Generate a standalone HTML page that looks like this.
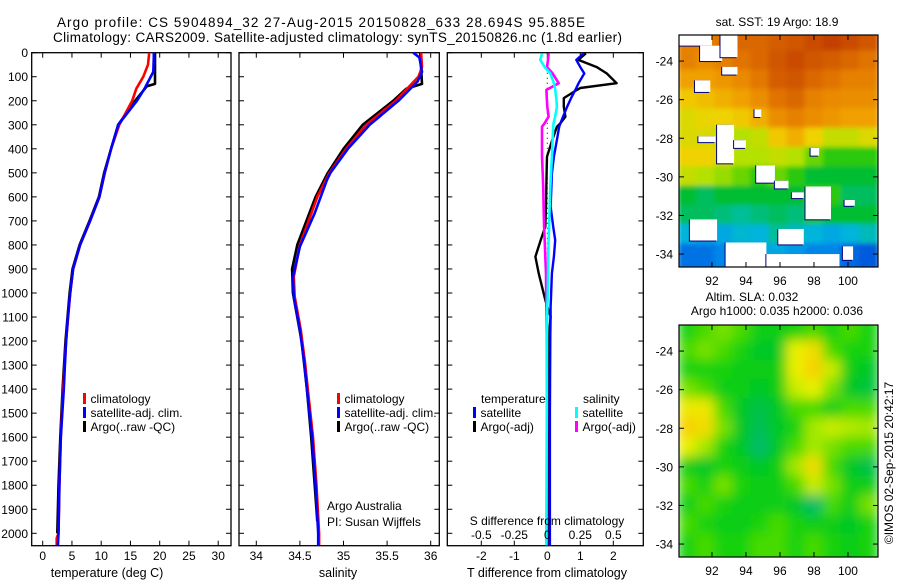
<!DOCTYPE html>
<html><head><meta charset="utf-8"><style>
html,body{margin:0;padding:0;background:#fff;}
svg{display:block;font-family:"Liberation Sans",Arial,sans-serif;}
</style></head><body>
<svg id="fig" width="900" height="580" viewBox="0 0 900 580" xmlns="http://www.w3.org/2000/svg">
<text x="57" y="27" font-size="13.5" textLength="528">Argo profile: CS 5904894_32 27-Aug-2015 20150828_633 28.694S 95.885E</text>
<text x="53" y="42" font-size="13.5" textLength="569">Climatology: CARS2009. Satellite-adjusted climatology: synTS_20150826.nc (1.8d earlier)</text>
<g id="plots"></g>
</svg>
<script>
// ---- data ----
const tempDepthBlue=[0,20,80,150,200,300,400,500,600,700,800,900,1000,1100,1200,1300,1400,1600,1800,2000,2050];
const tempBlue=[19.0,19.0,18.9,17.4,16.1,12.9,11.7,10.6,9.7,8.1,6.4,5.2,4.7,4.3,4.0,3.8,3.6,3.1,2.85,2.7,2.6];
const tempDepthRed=[0,50,100,150,200,300,400,500,600,700,800,900,1000,1200,1400,1600,1800,2000,2020,2050];
const tempRed=[18.2,18.0,17.2,16.0,15.3,13.1,11.7,10.6,9.7,8.1,6.4,5.2,4.7,4.0,3.5,3.1,2.85,2.7,2.4,2.4];
const tempDepthArgo=[0,130,140,200,300,400,500,600,700,800,900,1000,1200,1400,1600,1800,2000];
const tempArgo=[19.2,19.2,17.8,15.8,12.9,11.7,10.5,9.6,8.0,6.3,5.1,4.6,3.9,3.4,3.0,2.7,2.5];

const salDepthBlue=[0,20,80,120,200,300,400,500,530,668,807,932,1015,1154,1292,1431,1600,1800,2000,2050];
const salBlue=[35.80,35.87,35.90,35.85,35.63,35.30,35.05,34.85,34.81,34.67,34.50,34.42,34.43,34.50,34.55,34.59,34.64,34.68,34.71,34.71];
const salDepthRed=[0,60,100,200,300,400,500,600,800,932,1015,1154,1292,1431,1600,1800,2000,2050];
const salRed=[35.89,35.90,35.86,35.60,35.26,35.03,34.84,34.70,34.50,34.43,34.44,34.51,34.56,34.60,34.65,34.69,34.72,34.72];
const salDepthArgo=[0,130,150,200,300,400,500,600,800,900,1000,1200,1400,1600,1800,1950];
const salArgo=[35.88,35.90,35.72,35.57,35.22,35.00,34.82,34.68,34.47,34.41,34.42,34.52,34.58,34.63,34.67,34.70];

const dDepth=[3,30,60,86,127,147,155,189,225,266,293,308,363,433,502,571,640,724,780,849,918,1029,1057,1098,1180,1500,1800,2050];
const tDiffSat=[1.10,0.88,1.0,1.12,0.95,0.88,0.85,0.72,0.6,0.48,0.4,0.36,0.29,0.2,0.14,0.12,0.1,0.18,0.24,0.2,0.14,0.11,0.1,0.1,0.09,0.08,0.08,0.08];
const tDiffArgo=[1.17,0.94,1.5,1.8,2.1,1.0,0.9,0.5,0.5,0.55,0.4,0.29,0.15,-0.01,-0.02,-0.03,-0.04,-0.06,-0.2,-0.36,-0.26,-0.06,0.0,0.1,0.05,0.03,0.02,0.02];
const sDiffSat=[-0.04,-0.053,-0.02,0.023,0.05,0.058,0.06,0.068,0.073,0.06,0.048,0.045,0.04,0.035,0.028,0.022,0.018,0.014,0.01,0.007,0.005,0.002,0.0,-0.001,-0.002,-0.004,-0.006,-0.008];
const sDiffArgo=[0.01,0.005,-0.002,0.04,0.086,0.02,-0.007,-0.004,0.0,0.01,-0.02,-0.04,-0.04,-0.04,-0.035,-0.03,-0.028,-0.024,-0.02,-0.015,-0.01,-0.008,-0.007,-0.005,-0.004,-0.003,-0.003,-0.003];

const depthTicks=[0,100,200,300,400,500,600,700,800,900,1000,1100,1200,1300,1400,1500,1600,1700,1800,1900,2000];
const tempTicks=[0,5,10,15,20,25,30];
const salTicks=[34,34.5,35,35.5,36];
const tDiffTicks=[-2,-1,0,1,2];
const sDiffTicks=[-0.5,-0.25,0,0.25,0.5];
const sDiffTickLabels=["-0.5","-0.25","0","0.25","0.5"];
const latTicks=[-24,-26,-28,-30,-32,-34];
const lonTicks=[92,94,96,98,100];

// SST grid (colour index 0..1), rows lat -23..-34, cols across lon
const sstGrid=[
[.85,.85,.88,.9,.9,.92,.93,.95,.97,.95,.93],
[.85,.82,.85,.88,.9,.93,.95,.93,.92,.9,.88],
[.78,.78,.8,.83,.87,.92,.93,.9,.88,.85,.85],
[.7,.72,.75,.78,.82,.88,.9,.85,.83,.82,.82],
[.65,.67,.68,.7,.75,.82,.85,.82,.8,.78,.78],
[.65,.65,.62,.6,.62,.7,.75,.68,.62,.62,.65],
[.68,.68,.65,.6,.6,.62,.6,.55,.5,.5,.5],
[.62,.6,.58,.55,.5,.55,.5,.45,.45,.45,.45],
[.45,.42,.45,.45,.45,.45,.45,.5,.5,.42,.42],
[.42,.42,.4,.38,.4,.42,.4,.48,.45,.45,.45],
[.32,.3,.3,.33,.32,.38,.35,.32,.3,.32,.35],
[.22,.22,.25,.28,.3,.3,.28,.25,.25,.2,.18]];
const sstMask=[[90.06,-22.65,92.0,-23.2],[91.3,-23.2,92.6,-24.0],[92.5,-22.65,93.5,-23.8],[92.6,-24.3,93.5,-24.7],[91.0,-25.0,91.9,-25.6],
[91.2,-27.9,92.2,-28.2],[92.3,-27.3,93.3,-29.3],[93.3,-28.1,94.0,-28.5],[94.6,-29.4,95.7,-30.3],[95.7,-30.2,96.5,-30.6],
[96.7,-30.8,97.4,-31.1],[97.5,-30.5,99.0,-32.2],[90.7,-32.2,92.3,-33.3],[92.8,-33.4,95.2,-34.67],[95.2,-34.0,99.5,-34.67],
[95.9,-32.7,97.4,-33.5],[99.7,-33.6,100.3,-34.3],[99.8,-31.2,100.4,-31.5],[94.5,-26.5,94.9,-26.9],[97.8,-28.5,98.3,-28.9]];
const slaGrid=[
[.55,.6,.65,.6,.5,.5,.55,.6,.55,.6,.55],
[.6,.65,.6,.55,.45,.45,.8,.85,.6,.55,.55],
[.55,.55,.55,.5,.5,.5,.8,.88,.75,.5,.45],
[.65,.6,.5,.5,.45,.5,.75,.8,.65,.45,.42],
[.82,.82,.6,.45,.4,.45,.6,.6,.5,.6,.6],
[.88,.85,.65,.45,.38,.45,.55,.7,.75,.72,.7],
[.8,.7,.55,.45,.35,.45,.6,.7,.65,.6,.6],
[.5,.45,.55,.5,.45,.5,.7,.85,.6,.45,.4],
[.6,.55,.65,.55,.5,.5,.6,.75,.65,.5,.5],
[.5,.6,.55,.5,.5,.5,.45,.35,.6,.5,.65],
[.6,.55,.5,.5,.55,.6,.55,.5,.5,.45,.55],
[.55,.6,.55,.55,.6,.6,.55,.6,.55,.5,.55]];

// ---- helpers ----
const NS="http://www.w3.org/2000/svg";
const root=document.getElementById('plots');
function mk(tag,attrs,parent){const e=document.createElementNS(NS,tag);for(const k in attrs)e.setAttribute(k,attrs[k]);(parent||root).appendChild(e);return e;}
function txt(x,y,s,size,anchor,parent){const t=mk('text',{x:x,y:y,'font-size':size,'text-anchor':anchor||'start'},parent);t.textContent=s;return t;}
const yD=d=>52.7+d*0.2403;
const Y0=52.7, Y1=545.7;

function panel(name,x0,x1,xs,ticks,labels){
  const g=mk('g',{});
  
  
  mk('rect',{x:x0,y:Y0,width:x1-x0,height:Y1-Y0,fill:'none',stroke:'#000','stroke-width':1.3},g);
  ticks.forEach((v,i)=>{const x=xs(v);
    mk('line',{x1:x,x2:x,y1:Y1,y2:Y1-5,stroke:'#000'},g);
    mk('line',{x1:x,x2:x,y1:Y0,y2:Y0+5,stroke:'#000'},g);
    const t=txt(x,560,labels[i],12,'middle',g);
    
    
  });
  depthTicks.forEach(d=>{
    mk('line',{x1:x0,x2:x0+5,y1:yD(d),y2:yD(d),stroke:'#000'},g);
    mk('line',{x1:x1,x2:x1-5,y1:yD(d),y2:yD(d),stroke:'#000'},g);
  });
  return g;
}
function line(g,xs,depths,vals,color,name,w){
  const pts=depths.map((d,i)=>xs(vals[i]).toFixed(1)+','+yD(d).toFixed(1)).join(' ');
  const p=mk('polyline',{points:pts,fill:'none',stroke:color,'stroke-width':w||2.6,'stroke-linejoin':'round'},g);
  
  
}
function legend(g,x,y,items){
  items.forEach((it,i)=>{
    mk('rect',{x:x,y:y+i*14-10,width:3,height:11,fill:it[0]},g);
    const t=txt(x+7.5,y+i*14,it[1],12,'start',g);
    
    
  });
}

depthTicks.forEach(d=>{const t=txt(28,yD(d)+4.5,String(d),12,'end');
  
  });

// Panel 1 temperature
const xT=v=>42.7+v*5.85;
const g1=panel('temperature-panel',31.7,231,xT,tempTicks,tempTicks.map(String));
line(g1,xT,tempDepthArgo,tempArgo,'#000','argo-temperature-line');
line(g1,xT,tempDepthRed,tempRed,'#f00','climatology-temperature-line');
line(g1,xT,tempDepthBlue,tempBlue,'#00f','satellite-temperature-line');
legend(g1,83,403,[['#f00','climatology'],['#00f','satellite-adj. clim.'],['#000','Argo(..raw -QC)']]);
let t=txt(107,577,'temperature (deg C)',12.5,'middle',g1);


// Panel 2 salinity
const xS=v=>256.3+(v-34)*87.2;
const g2=panel('salinity-panel',239,439.3,xS,salTicks,salTicks.map(String));
line(g2,xS,salDepthArgo,salArgo,'#000','argo-salinity-line');
line(g2,xS,salDepthRed,salRed,'#f00','climatology-salinity-line');
line(g2,xS,salDepthBlue,salBlue,'#00f','satellite-salinity-line');
legend(g2,337,403,[['#f00','climatology'],['#00f','satellite-adj. clim.'],['#000','Argo(..raw -QC)']]);
txt(327,510,'Argo Australia',12,'start',g2);
txt(327,526,'PI: Susan Wijffels',12,'start',g2);
t=txt(338,577,'salinity',12.5,'middle',g2);


// Panel 3 differences
const xDT=v=>547.3+v*33;
const xDS=v=>547.3+v*132;
const g3=panel('difference-panel',447.3,643.3,xDT,tDiffTicks,tDiffTicks.map(String));
mk('line',{x1:547.3,x2:547.3,y1:Y0,y2:Y1,stroke:'#000','stroke-dasharray':'1,4'},g3);
line(g3,xDT,dDepth,tDiffArgo,'#000','argo-temperature-diff-line',2.4);
line(g3,xDT,dDepth,tDiffSat,'#00f','satellite-temperature-diff-line',2.4);
line(g3,xDS,dDepth,sDiffArgo,'#f0f','argo-salinity-diff-line',2.6);
line(g3,xDS,dDepth,sDiffSat,'#0ff','satellite-salinity-diff-line',2.6);
sDiffTicks.forEach((v,i)=>{const s=txt(xDS(v),539,sDiffTickLabels[i],12,'middle',g3);
  });
txt(547,525,'S difference from climatology',12,'middle',g3);
txt(481,403,'temperature',12,'start',g3);
txt(583,403,'salinity',12,'start',g3);
legend(g3,473,417,[['#00f','satellite'],['#000','Argo(-adj)']]);
legend(g3,575,417,[['#0ff','satellite'],['#f0f','Argo(-adj)']]);
t=txt(547,577,'T difference from climatology',12.5,'middle',g3);


// ---- maps ----
function ramp(stops,v){
  if(v<=stops[0][0])return 'rgb('+stops[0][1].join(',')+')';
  for(let i=1;i<stops.length;i++){if(v<=stops[i][0]){const a=stops[i-1],b=stops[i],f=(v-a[0])/(b[0]-a[0]);
    return 'rgb('+a[1].map((c,k)=>Math.round(c+(b[1][k]-c)*f)).join(',')+')';}}
  return 'rgb('+stops[stops.length-1][1].join(',')+')';
}
const sstStops=[[0.18,[0,90,220]],[0.26,[0,140,235]],[0.32,[0,180,220]],[0.38,[0,190,150]],[0.45,[0,190,50]],[0.52,[60,205,0]],[0.6,[180,225,0]],[0.68,[240,210,0]],[0.78,[240,160,0]],[0.88,[225,115,0]],[0.97,[195,65,0]]];
const slaStops=[[0.3,[0,180,140]],[0.45,[0,200,40]],[0.55,[20,210,10]],[0.68,[150,230,0]],[0.8,[235,240,0]],[0.9,[250,200,0]]];
const sstCol=v=>ramp(sstStops,v);
const slaCol=v=>ramp(slaStops,v);
const LON0=90.06,LON1=101.76,LAT0=-22.65;
const xLon=l=>679+(l-LON0)*17;
function map(name,yTop,grid,colf,blur,mask,title){
  const yLat=la=>yTop+(LAT0-la)*19.3;
  const g=mk('g',{});
  
  
  const id='clip'+name;
  const cp=mk('clipPath',{id:id},g);
  mk('rect',{x:679,y:yTop,width:199,height:232},cp);
  const fid='f'+name;
  const f=mk('filter',{id:fid,x:'-10%',y:'-10%',width:'120%',height:'120%'},g);
  mk('feGaussianBlur',{stdDeviation:blur},f);
  const cg=mk('g',{'clip-path':'url(#'+id+')'},g);
  const ig=mk('g',{filter:'url(#'+fid+')'},cg);
  const nr=grid.length,nc=grid[0].length,dl=(LON1-LON0)/nc;
  grid.forEach((row,r)=>row.forEach((v,c)=>{
    const lo=LON0+c*dl, la=-22.5-r*1.0;
    const rr=mk('rect',{x:xLon(lo)-1,y:yLat(la)-1,width:dl*17+2,height:19.3+2,fill:colf(v)},ig);
    
    
    if(r===nr-1) rr.setAttribute('height',60);
    if(r===0){rr.setAttribute('y',yLat(la)-20);rr.setAttribute('height',42);}
  }));
  (mask||[]).forEach(m=>{
    mk('rect',{x:xLon(m[0])-1,y:yLat(m[1]),width:(m[2]-m[0])*17,height:(m[1]-m[3])*19.3+1,fill:'#000080'},cg);
    mk('rect',{x:xLon(m[0]),y:yLat(m[1]),width:(m[2]-m[0])*17,height:(m[1]-m[3])*19.3,fill:'#fff'},cg);
  });
  mk('rect',{x:679,y:yTop,width:199,height:232,fill:'none',stroke:'#000','stroke-width':1.2},g);
  latTicks.forEach(la=>{const y=yLat(la);
    mk('line',{x1:679,x2:684,y1:y,y2:y,stroke:'#000'},g);
    mk('line',{x1:878,x2:873,y1:y,y2:y,stroke:'#000'},g);
    txt(673,y+4.5,String(la),12,'end',g);});
  lonTicks.forEach(lo=>{const x=xLon(lo);
    mk('line',{x1:x,x2:x,y1:yTop+232,y2:yTop+227,stroke:'#000'},g);
    mk('line',{x1:x,x2:x,y1:yTop,y2:yTop+5,stroke:'#000'},g);
    txt(x,yTop+250,String(lo),12,'middle',g);});
  title.forEach(tt=>txt(tt[0],tt[1],tt[2],12,'middle',g));
}
map('sst-map',35,sstGrid,sstCol,2.5,sstMask,[[777,26,'sat. SST: 19 Argo: 18.9']]);
map('sla-map',325,slaGrid,slaCol,6,[],[[752,301,'Altim. SLA: 0.032'],[777,315,'Argo h1000: 0.035 h2000: 0.036']]);
const cr=txt(0,0,'©IMOS 02-Sep-2015 20:42:17',12,'middle');
cr.setAttribute('transform','translate(893,463) rotate(-90)');


</script>
</body></html>
